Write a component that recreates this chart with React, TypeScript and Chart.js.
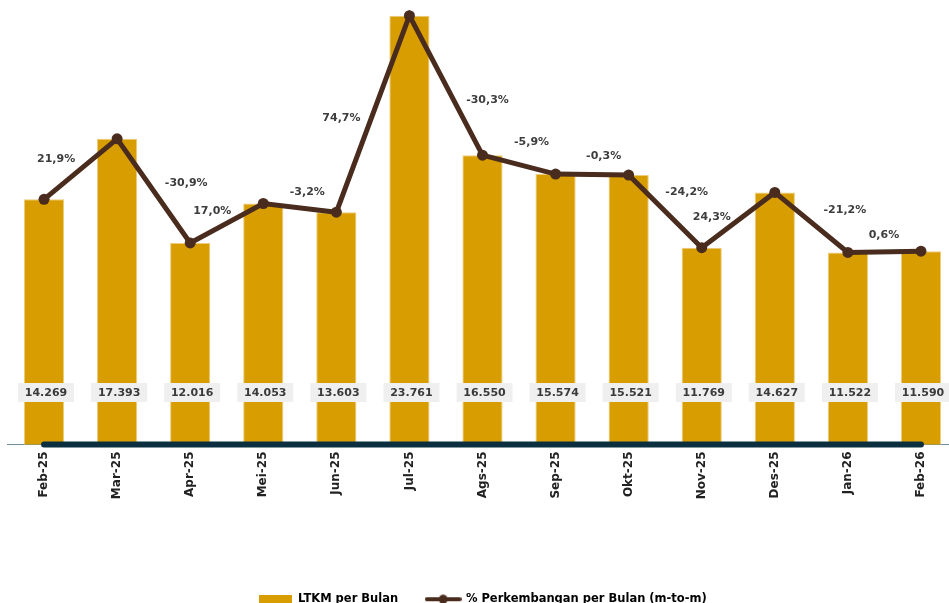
import React, { useEffect, useRef } from "react";
import { Chart, registerables } from "chart.js";

Chart.register(...registerables);

// ---- data ----
const categories = ["Feb-25", "Mar-25", "Apr-25", "Mei-25", "Jun-25", "Jul-25", "Ags-25", "Sep-25", "Okt-25", "Nov-25", "Des-25", "Jan-26", "Feb-26"];
const ltkmValues = [14269, 17393, 12016, 14053, 13603, 23761, 16550, 15574, 15521, 11769, 14627, 11522, 11590];
const valueLabels = ["14.269", "17.393", "12.016", "14.053", "13.603", "23.761", "16.550", "15.574", "15.521", "11.769", "14.627", "11.522", "11.590"];
const pctLabels = ["", "21,9%", "-30,9%", "17,0%", "-3,2%", "74,7%", "-30,3%", "-5,9%", "-0,3%", "-24,2%", "24,3%", "-21,2%", "0,6%"];

// ---- layout (label placement relative to line points) ----
const pctOffsets: [number, number][] = [
  [0, 0], [-61, 20], [-4, -60], [-51, 8], [-29, -20], [-68, 103], [5, -55],
  [-24, -32], [-25, -19], [-15, -56], [-63, 25], [-3, -42], [-37, -16],
];

const BAR_COLOR = "#D89D00";
const LINE_COLOR = "#4A2C1E";
const AXIS_COLOR = "#0B2F3F";
const FONT = "'DejaVu Sans', sans-serif";

const W = 966;
const H = 615;

function makeBarIcon() {
  const c = document.createElement("canvas");
  c.width = 33; c.height = 8;
  const g = c.getContext("2d")!;
  g.fillStyle = BAR_COLOR;
  g.fillRect(0, 0, 33, 8);
  return c;
}
function makeLineIcon() {
  const c = document.createElement("canvas");
  c.width = 37; c.height = 10;
  const g = c.getContext("2d")!;
  g.strokeStyle = LINE_COLOR;
  g.lineWidth = 4;
  g.lineCap = "round";
  g.beginPath(); g.moveTo(2, 5); g.lineTo(35, 5); g.stroke();
  g.fillStyle = LINE_COLOR;
  g.beginPath(); g.arc(18.5, 5, 4.5, 0, Math.PI * 2); g.fill();
  return c;
}

const labelsPlugin = {
  id: "customLabels",
  afterDatasetsDraw(chart: any) {
    const ctx = chart.ctx;
    const area = chart.chartArea;
    const bars = chart.getDatasetMeta(0).data;
    const pts = chart.getDatasetMeta(1).data;
    ctx.save();
    // thick axis line
    ctx.strokeStyle = AXIS_COLOR;
    ctx.lineWidth = 6;
    ctx.lineCap = "round";
    ctx.beginPath();
    ctx.moveTo(bars[0].x, area.bottom);
    ctx.lineTo(bars[bars.length - 1].x, area.bottom);
    ctx.stroke();
    // value labels
    ctx.font = `bold 11px ${FONT}`;
    ctx.textAlign = "center";
    ctx.textBaseline = "middle";
    bars.forEach((b: any, i: number) => {
      const cx = b.x + 2;
      const cy = area.bottom - 52;
      ctx.fillStyle = "#EFEFEF";
      ctx.fillRect(cx - 28, cy - 9.5, 56, 19);
      ctx.fillStyle = "#3A3A3A";
      ctx.fillText(valueLabels[i], cx, cy + 0.5);
    });
    // percent labels
    ctx.font = `bold 11px ${FONT}`;
    pts.forEach((p: any, i: number) => {
      if (!pctLabels[i]) return;
      const [dx, dy] = pctOffsets[i];
      ctx.fillStyle = "#3D3D3D";
      ctx.fillText(pctLabels[i], p.x + dx, p.y + dy);
    });
    ctx.restore();
  },
};

export default function App() {
  const ref = useRef<HTMLCanvasElement>(null);
  useEffect(() => {
    if (!ref.current) return;
    const barIcon = makeBarIcon();
    const lineIcon = makeLineIcon();
    const chart = new Chart(ref.current, {
      data: {
        labels: categories,
        datasets: [
          {
            type: "bar",
            label: "LTKM per Bulan",
            data: ltkmValues,
            backgroundColor: BAR_COLOR,
            borderColor: "#EDCB7A",
            borderWidth: { left: 1, right: 1, top: 1, bottom: 0 },
            categoryPercentage: 1,
            barPercentage: 0.55,
            order: 2,
          },
          {
            type: "line",
            label: "% Perkembangan per Bulan (m-to-m)",
            data: ltkmValues,
            borderColor: LINE_COLOR,
            backgroundColor: LINE_COLOR,
            borderWidth: 5,
            pointRadius: 5.5,
            pointBackgroundColor: LINE_COLOR,
            pointBorderWidth: 0,
            tension: 0,
            order: 1,
            clip: false,
          },
        ],
      } as any,
      options: {
        responsive: false,
        animation: false,
        layout: { padding: { left: 7.5, right: 8.5, top: 11, bottom: 0 } },
        scales: {
          x: {
            grid: { display: false, drawTicks: false },
            border: { display: true, color: "#6E8C9B", width: 1 },
            ticks: {
              minRotation: 90,
              maxRotation: 90,
              padding: 7,
              color: "#222",
              font: { family: FONT, weight: "bold", size: 12 },
            },
            afterFit: (scale: any) => { scale.height = 121; },
          },
          y: {
            display: false,
            min: 1600,
            max: 24000,
          },
        },
        plugins: {
          tooltip: { enabled: false },
          legend: {
            position: "bottom",
            labels: {
              usePointStyle: true,
              pointStyleWidth: 34,
              padding: 28,
              color: "#1A1A1A",
              font: { family: FONT, weight: "bold", size: 11.5 },
              generateLabels: () => [
                { text: "LTKM per Bulan", pointStyle: barIcon, datasetIndex: 0, fillStyle: BAR_COLOR, strokeStyle: BAR_COLOR, lineWidth: 0, hidden: false },
                { text: "% Perkembangan per Bulan (m-to-m)", pointStyle: lineIcon, datasetIndex: 1, fillStyle: LINE_COLOR, strokeStyle: LINE_COLOR, lineWidth: 0, hidden: false },
              ] as any,
            },
          },
        },
      } as any,
      plugins: [labelsPlugin],
    });
    return () => chart.destroy();
  }, []);
  return (
    <div style={{ position: "fixed", left: 0, top: 0, width: 949, height: 603, overflow: "hidden", background: "#fff" }}>
      <canvas ref={ref} width={W} height={H} style={{ position: "absolute", left: 0, top: 0, width: W, height: H }} />
    </div>
  );
}
